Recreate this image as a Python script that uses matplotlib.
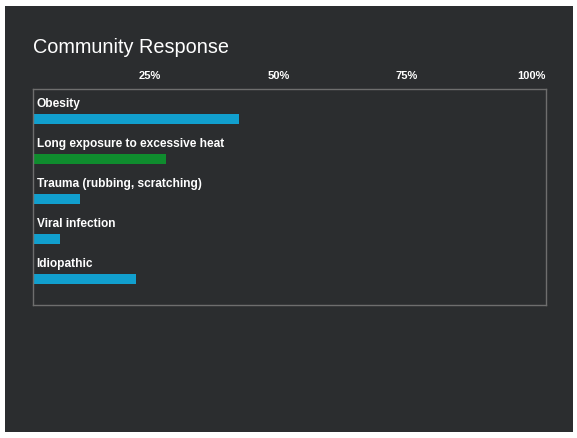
import matplotlib
matplotlib.use("Agg")
import matplotlib.pyplot as plt
from matplotlib.patches import Rectangle

plt.rcParams['font.family'] = ['Liberation Sans', 'DejaVu Sans']

# data
categories = ["Obesity", "Long exposure to excessive heat",
              "Trauma (rubbing, scratching)", "Viral infection", "Idiopathic"]
values = [40.2, 26, 9.2, 5.2, 20]
bar_colors = ["#119fce", "#0f8c2e", "#119fce", "#119fce", "#119fce"]
tick_vals = [25, 50, 75, 100]
tick_labels = ["25%", "50%", "75%", "100%"]

W, H = 577, 438
fig = plt.figure(figsize=(W / 100, H / 100), dpi=100)
fig.patch.set_facecolor("white")

# dark panel behind the chart
fig.patches.append(Rectangle((5 / W, 6 / H), 568 / W, 426 / H,
                             transform=fig.transFigure, facecolor="#2b2d2f",
                             edgecolor="none", zorder=-5))

fig.text(33 / W, 1 - 47.5 / H, "Community Response", color="white",
         fontsize=14.3, va="center", ha="left")

ax = fig.add_axes([33 / W, 1 - 305 / H, 513 / W, 216 / H])
ax.set_zorder(2)
ax.set_facecolor("#2b2d2f")

ypos = list(range(len(categories)))
ax.barh(ypos, values, height=0.25, color=bar_colors, align="center")
for i, cat in enumerate(categories):
    ax.text(0.7, i - 0.38, cat, color="white", fontsize=8.55,
            fontweight="bold", va="center", ha="left")

ax.set_xlim(0, 100)
ax.set_ylim(4.65, -0.75)
ax.set_yticks([])
ax.xaxis.tick_top()
ax.set_xticks(tick_vals)
ax.set_xticklabels(tick_labels, color="white", fontsize=8,
                   fontweight="bold", ha="right")
ax.tick_params(axis="x", length=0, pad=6)
for s in ax.spines.values():
    s.set_color("#6e6e6e")
    s.set_linewidth(1)

fig.savefig("out.png", dpi=100, facecolor=fig.get_facecolor())
